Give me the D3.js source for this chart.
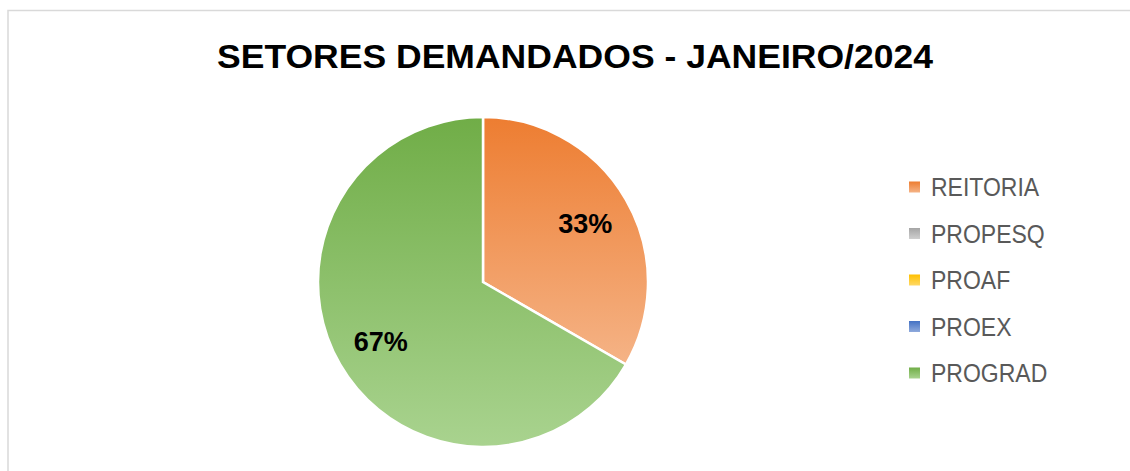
<!DOCTYPE html>
<html>
<head>
<meta charset="utf-8">
<script src="https://cdn.jsdelivr.net/npm/d3@7"></script>
<style>
  body { margin: 0; background: #fff; }
  svg { display: block; }
</style>
</head>
<body>
<div id="chart"></div>
<script>
// dados
var setores = ["REITORIA", "PROPESQ", "PROAF", "PROEX", "PROGRAD"];
var valores = [1, 0, 0, 0, 2];
var coresTopo = ["#ED7D31", "#A5A5A5", "#FFC000", "#4472C4", "#70AD47"];
var coresBase = ["#F5B386", "#CFCFCF", "#FFD966", "#8FAADC", "#A9D38F"];

var width = 1130, height = 471;

var svg = d3.select("#chart")
    .append("svg")
    .attr("width", width)
    .attr("height", height);

// borda da área do gráfico
svg.append("rect")
    .attr("x", 8)
    .attr("y", 10.5)
    .attr("width", 1140)
    .attr("height", 480)
    .attr("fill", "none")
    .attr("stroke", "#d9d9d9")
    .attr("stroke-width", 1.5);

// gradientes
var defs = svg.append("defs");
setores.forEach(function(s, i) {
    var g = defs.append("linearGradient")
        .attr("id", "grad" + i)
        .attr("x1", 0).attr("y1", 0)
        .attr("x2", 0).attr("y2", 1);
    g.append("stop").attr("offset", "0%").attr("stop-color", coresTopo[i]);
    g.append("stop").attr("offset", "100%").attr("stop-color", coresBase[i]);
});

// título
svg.append("text")
    .attr("x", 575)
    .attr("y", 68)
    .attr("text-anchor", "middle")
    .attr("textLength", 716)
    .attr("lengthAdjust", "spacingAndGlyphs")
    .style("font-family", "'Liberation Sans', Arial, sans-serif")
    .style("font-weight", "bold")
    .style("font-size", "32.5px")
    .style("fill", "#000")
    .text("SETORES DEMANDADOS - JANEIRO/2024");

// pizza
var cx = 483, cy = 282, raio = 165;
var dados = setores.map(function(s, i) { return { setor: s, valor: valores[i], idx: i }; });

var pie = d3.pie()
    .sort(null)
    .value(function(d) { return d.valor; });

var arc = d3.arc().innerRadius(0).outerRadius(raio);
var arcLabel = d3.arc().innerRadius(raio * 0.715).outerRadius(raio * 0.715);

var gPie = svg.append("g")
    .attr("transform", "translate(" + cx + "," + cy + ")");

var fatias = pie(dados).filter(function(d) { return d.data.valor > 0; });
var total = d3.sum(valores);

gPie.selectAll("path")
    .data(fatias)
    .enter()
    .append("path")
    .attr("d", arc)
    .attr("fill", function(d) { return "url(#grad" + d.data.idx + ")"; })
    .attr("stroke", "#fff")
    .attr("stroke-width", 2.5)
    .attr("stroke-linejoin", "miter");

gPie.selectAll("text")
    .data(fatias)
    .enter()
    .append("text")
    .attr("transform", function(d) { return "translate(" + arcLabel.centroid(d) + ")"; })
    .attr("text-anchor", "middle")
    .attr("dy", "0.36em")
    .style("font-family", "'Liberation Sans', Arial, sans-serif")
    .style("font-weight", "bold")
    .style("font-size", "27px")
    .style("fill", "#000")
    .text(function(d) { return Math.round(d.data.valor / total * 100) + "%"; });

// legenda
var legY = d3.scalePoint()
    .domain(setores)
    .range([187, 373]);

var leg = svg.append("g");

leg.selectAll("rect")
    .data(setores)
    .enter()
    .append("rect")
    .attr("x", 909)
    .attr("y", function(d) { return legY(d) - 5.5; })
    .attr("width", 11)
    .attr("height", 11)
    .attr("fill", function(d, i) { return "url(#grad" + i + ")"; });

leg.selectAll("text")
    .data(setores)
    .enter()
    .append("text")
    .attr("x", 931)
    .attr("y", function(d) { return legY(d); })
    .attr("dy", "0.36em")
    .style("font-family", "'Liberation Sans', Arial, sans-serif")
    .style("font-size", "25px")
    .style("fill", "#595959")
    .text(function(d) { return d; })
    .each(function() {
        // fonte mais estreita, como no original
        var len = this.getComputedTextLength();
        d3.select(this).attr("textLength", len * 0.92).attr("lengthAdjust", "spacingAndGlyphs");
    });
</script>
</body>
</html>
